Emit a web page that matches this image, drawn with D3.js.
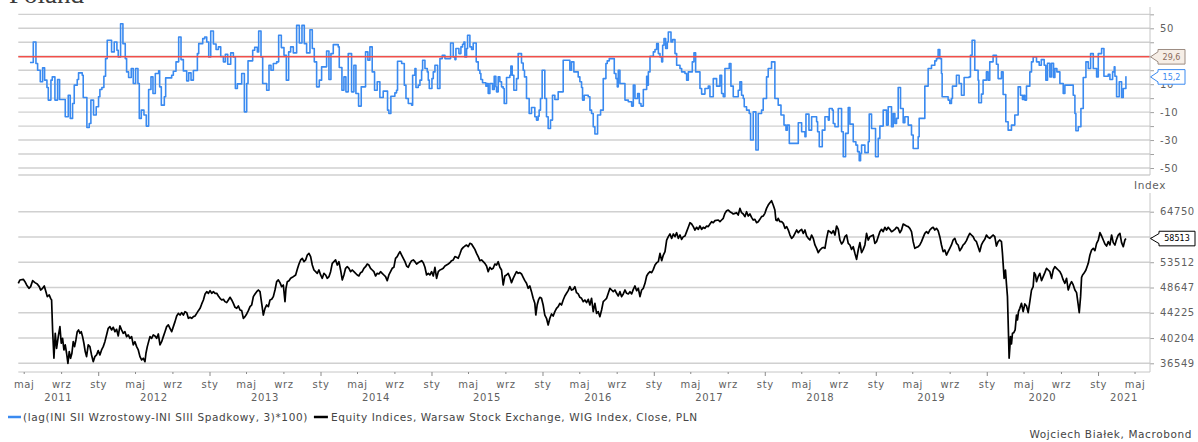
<!DOCTYPE html>
<html><head><meta charset="utf-8">
<script src="https://cdn.jsdelivr.net/npm/d3@7"></script>
<style>
html,body{margin:0;padding:0;background:#fff;}
svg{display:block;}
</style></head><body>
<svg id="chart" width="1198" height="442"></svg>
<script>
// ---------------- DATA ----------------
const titleText = "Poland";
const unitLabel = "Index";
const creditText = "Wojciech Białek, Macrobond";
const legendLabels = ["(lag(INI SII Wzrostowy-INI SIII Spadkowy, 3)*100)", "Equity Indices, Warsaw Stock Exchange, WIG Index, Close, PLN"];
const monthNames = ["sty","lut","mar","kwi","maj","cze","lip","sie","wrz","paź","lis","gru"];
const years = [2011,2012,2013,2014,2015,2016,2017,2018,2019,2020,2021];
const sentimentTicks = [-50,-40,-30,-20,-10,0,10,20,30,40,50,60];
const sentimentLabelTicks = [50,10,-10,-30,-50];          // 30 is hidden behind the 29,6 marker
const wigTicks = [36549,40204,44225,48647,53512,58863,64750];
const wigLabelTicks = [36549,40204,44225,48647,53512,64750]; // 58863 hidden behind the last-value marker
const thresholdValue = 29.6;

// [decimal year, value] – sentiment spread (weekly steps)
const sentimentData = [
[2011.385,25.5],[2011.415,40.2],[2011.439,24.8],[2011.454,20.0],[2011.478,11.7],[2011.499,21.7],[2011.517,12.9],[2011.538,7.6],[2011.550,-1.4],[2011.574,12.9],[2011.586,15.2],[2011.610,-1.4],[2011.634,13.3],[2011.652,-1.0],[2011.703,-13.3],[2011.730,2.1],[2011.748,-14.5],[2011.769,-3.8],[2011.784,9.3],[2011.811,13.3],[2011.823,18.1],[2011.856,16.4],[2011.865,0.5],[2011.898,-21.0],[2011.919,-18.1],[2011.934,-1.4],[2011.958,-12.1],[2011.982,-6.2],[2012.003,1.0],[2012.015,6.2],[2012.033,7.6],[2012.051,15.7],[2012.066,28.3],[2012.081,41.4],[2012.120,33.1],[2012.144,40.2],[2012.168,34.3],[2012.180,29.5],[2012.201,53.3],[2012.222,39.0],[2012.243,28.3],[2012.255,18.8],[2012.273,14.8],[2012.297,21.2],[2012.315,10.5],[2012.336,21.2],[2012.357,10.5],[2012.369,-14.5],[2012.387,-8.6],[2012.411,-12.1],[2012.432,-20.0],[2012.453,6.2],[2012.474,15.2],[2012.492,3.3],[2012.513,17.6],[2012.543,19.5],[2012.552,8.1],[2012.567,-5.0],[2012.594,1.0],[2012.606,14.5],[2012.660,16.4],[2012.675,19.3],[2012.699,26.0],[2012.723,43.8],[2012.744,27.6],[2012.765,19.5],[2012.795,12.4],[2012.813,18.1],[2012.834,12.9],[2012.855,19.8],[2012.891,31.9],[2012.903,39.0],[2012.939,42.6],[2012.957,43.8],[2012.975,40.2],[2012.993,29.5],[2013.011,48.1],[2013.035,38.8],[2013.059,34.8],[2013.080,36.7],[2013.101,29.8],[2013.125,26.0],[2013.143,31.4],[2013.164,24.3],[2013.191,32.4],[2013.215,29.5],[2013.233,6.9],[2013.251,10.2],[2013.290,17.6],[2013.314,-9.8],[2013.335,10.5],[2013.347,26.7],[2013.389,34.3],[2013.407,36.4],[2013.431,33.1],[2013.443,48.1],[2013.464,29.5],[2013.479,10.5],[2013.515,5.7],[2013.536,23.6],[2013.554,20.0],[2013.575,24.8],[2013.605,26.0],[2013.623,45.0],[2013.647,36.2],[2013.671,30.7],[2013.692,12.9],[2013.713,33.1],[2013.731,36.7],[2013.755,32.4],[2013.785,52.1],[2013.809,39.5],[2013.833,52.1],[2013.854,39.0],[2013.875,32.4],[2013.905,49.0],[2013.926,35.5],[2013.944,26.0],[2013.965,8.1],[2013.989,12.9],[2014.010,22.4],[2014.055,33.8],[2014.076,13.3],[2014.094,31.9],[2014.115,38.3],[2014.160,36.7],[2014.169,21.9],[2014.193,5.7],[2014.211,15.2],[2014.229,4.5],[2014.250,31.9],[2014.280,4.5],[2014.301,23.6],[2014.319,3.3],[2014.343,-5.7],[2014.367,8.1],[2014.406,33.1],[2014.427,27.1],[2014.445,36.7],[2014.466,18.8],[2014.487,5.7],[2014.511,11.7],[2014.535,0.5],[2014.565,5.0],[2014.604,-8.6],[2014.616,-11.0],[2014.634,1.4],[2014.670,3.8],[2014.685,5.7],[2014.694,26.4],
[2014.731,24.8],[2014.755,9.3],[2014.770,-0.2],[2014.791,-3.8],[2014.821,-5.0],[2014.830,16.4],[2014.851,21.2],[2014.860,7.6],[2014.881,9.3],[2014.896,12.9],[2014.911,20.0],[2014.920,27.1],[2014.941,21.2],[2014.962,18.8],[2014.971,12.9],[2014.980,6.9],[2015.004,14.0],[2015.016,18.8],[2015.031,23.6],[2015.055,6.9],[2015.076,28.3],[2015.097,30.7],[2015.121,28.3],[2015.172,39.5],[2015.196,29.5],[2015.211,27.6],[2015.220,35.5],[2015.247,31.9],[2015.265,36.7],[2015.280,38.6],[2015.292,40.2],[2015.301,29.5],[2015.316,35.5],[2015.325,45.0],[2015.346,36.7],[2015.361,34.8],[2015.376,39.5],[2015.403,26.0],[2015.421,20.0],[2015.436,17.6],[2015.445,13.3],[2015.460,11.0],[2015.490,8.6],[2015.502,10.5],[2015.511,3.3],[2015.526,10.5],[2015.550,6.2],[2015.565,15.7],[2015.580,8.1],[2015.586,4.5],[2015.601,15.2],[2015.616,11.7],[2015.631,8.1],[2015.646,6.9],[2015.655,-3.8],[2015.676,14.8],[2015.706,16.4],[2015.715,22.9],[2015.727,16.4],[2015.742,5.7],[2015.766,14.0],[2015.781,31.9],[2015.811,25.2],[2015.826,20.0],[2015.838,15.2],[2015.856,-0.2],[2015.880,-11.0],[2015.901,-6.7],[2015.931,-13.3],[2015.946,-15.7],[2015.961,-12.9],[2015.970,-8.6],[2015.982,-0.2],[2015.997,20.0],[2016.021,-0.2],[2016.036,-13.3],[2016.051,-21.7],[2016.072,-15.7],[2016.090,2.1],[2016.111,-1.0],[2016.141,4.5],[2016.186,27.1],[2016.246,20.0],[2016.261,26.0],[2016.282,18.8],[2016.321,15.2],[2016.336,11.7],[2016.351,7.6],[2016.360,-1.4],[2016.375,2.1],[2016.411,1.0],[2016.426,-8.6],[2016.441,-11.0],[2016.456,-20.5],[2016.471,-25.7],[2016.495,-12.1],[2016.522,-8.6],[2016.546,14.0],[2016.570,24.8],[2016.582,26.7],[2016.600,28.3],[2016.645,17.6],[2016.660,14.0],[2016.672,8.1],[2016.681,20.0],[2016.696,10.5],[2016.741,-1.4],[2016.771,-2.6],[2016.801,-5.7],[2016.816,9.3],[2016.831,-0.2],[2016.855,3.3],[2016.870,-3.8],[2016.885,-5.7],[2016.906,6.2],[2016.936,15.7],[2016.945,9.3],[2016.951,18.8],[2016.966,30.0],[2016.996,33.1],[2017.011,34.8],[2017.026,39.0],[2017.041,31.9],[2017.056,29.5],[2017.071,26.0],[2017.080,37.9],[2017.092,42.6],[2017.107,35.5],[2017.122,40.2],[2017.131,47.4],[2017.155,40.2],[2017.170,41.9],[2017.191,31.9],[2017.206,23.6],[2017.236,21.2],[2017.251,18.8],[2017.281,17.6],[2017.296,12.9],[2017.311,18.8],[2017.347,26.0],[2017.362,32.4],[2017.377,18.8],[2017.416,6.9],[2017.431,2.9],[2017.461,6.9],[2017.491,8.6],[2017.506,1.0],[2017.536,14.0],[2017.566,8.6],[2017.596,16.4],[2017.611,3.3],[2017.626,1.0],[2017.641,21.2],[2017.680,24.8],[2017.695,8.6],[2017.716,1.0],[2017.761,5.7],[2017.776,11.7],[2017.791,2.1],[2017.806,-0.2],[2017.815,-6.2],[2017.836,-8.6],[2017.860,-11.0],[2017.872,-30.0],[2017.896,-9.8],[2017.920,-37.1],[2017.941,-11.0],[2017.971,-8.6],[2017.986,-0.2],[2018.016,15.2],[2018.031,21.2],[2018.061,26.0],[2018.091,-0.2],[2018.121,-5.0],
[2018.146,-12.1],[2018.173,-19.3],[2018.191,-22.9],[2018.203,-19.3],[2018.221,-32.4],[2018.302,-17.6],[2018.332,-24.0],[2018.362,-27.6],[2018.371,-11.4],[2018.398,-22.9],[2018.422,-13.3],[2018.467,-16.9],[2018.476,-24.0],[2018.491,-34.8],[2018.518,-22.9],[2018.542,-13.3],[2018.572,-15.7],[2018.581,-7.4],[2018.608,-8.6],[2018.617,-18.1],[2018.632,-20.5],[2018.662,-7.4],[2018.692,-24.0],[2018.707,-41.9],[2018.728,-25.2],[2018.752,-6.7],[2018.767,-18.6],[2018.797,-31.2],[2018.821,-33.6],[2018.836,-38.3],[2018.851,-44.8],[2018.863,-39.5],[2018.872,-33.6],[2018.902,-39.0],[2018.932,-31.2],[2018.941,-11.4],[2018.962,-21.7],[2018.998,-41.9],[2019.022,-28.8],[2019.037,-20.0],[2019.067,-8.6],[2019.097,-19.3],[2019.112,-6.2],[2019.142,-20.5],[2019.157,-11.0],[2019.172,-18.1],[2019.187,-14.5],[2019.202,7.6],[2019.223,-7.4],[2019.247,-17.6],[2019.262,-13.3],[2019.292,-19.3],[2019.322,-26.4],[2019.337,-36.0],[2019.382,-27.6],[2019.391,-14.5],[2019.442,8.6],[2019.472,21.2],[2019.502,23.6],[2019.532,26.7],[2019.547,28.3],[2019.562,34.8],[2019.577,28.3],[2019.592,17.6],[2019.598,1.0],[2019.652,-1.4],[2019.667,-3.8],[2019.682,-0.2],[2019.691,8.6],[2019.727,16.4],[2019.751,10.5],[2019.772,2.1],[2019.796,14.8],[2019.841,15.2],[2019.853,30.7],[2019.868,41.4],[2019.892,20.0],[2019.922,12.9],[2019.928,-3.3],[2019.952,2.9],[2019.967,12.9],[2019.997,18.8],[2020.012,12.9],[2020.027,26.0],[2020.057,30.7],[2020.087,24.3],[2020.102,14.0],[2020.132,18.8],[2020.147,2.6],[2020.171,-16.9],[2020.192,-22.9],[2020.222,-19.3],[2020.252,-12.1],[2020.282,8.1],[2020.303,2.1],[2020.321,-1.0],[2020.333,2.1],[2020.342,-1.4],[2020.357,8.6],[2020.387,18.8],[2020.402,26.0],[2020.417,29.5],[2020.447,26.0],[2020.471,23.6],[2020.490,27.6],[2020.516,23.6],[2020.531,12.9],[2020.546,25.0],[2020.567,15.2],[2020.582,25.0],[2020.600,14.8],[2020.612,21.2],[2020.630,18.8],[2020.657,10.5],[2020.687,3.3],[2020.702,9.3],[2020.777,2.1],[2020.792,-11.0],[2020.801,-23.3],[2020.822,-20.5],[2020.846,-7.4],[2020.867,14.8],[2020.891,26.0],[2020.912,21.2],[2020.933,31.9],[2020.957,21.2],[2020.987,15.2],[2021.002,31.9],[2021.032,35.5],[2021.053,15.7],[2021.092,17.1],[2021.107,13.3],[2021.131,18.8],[2021.146,22.4],[2021.152,15.7],[2021.167,1.0],[2021.191,11.7],[2021.212,0.5],[2021.227,6.9],[2021.251,15.2],[2021.257,15.2]
];

// [decimal year, close] – WIG index
const wigData = [
[2011.280,49420],[2011.295,50050],[2011.325,50170],[2011.340,49730],[2011.355,49110],[2011.376,48500],[2011.391,48810],[2011.409,49920],[2011.430,49550],[2011.451,49300],[2011.469,48810],[2011.481,48190],[2011.499,48500],[2011.514,48930],[2011.529,47890],[2011.541,47000],[2011.559,47300],[2011.571,46700],[2011.580,46410],[2011.589,41450],[2011.601,37250],[2011.613,40930],[2011.625,38675],[2011.640,40420],[2011.655,41970],[2011.667,39420],[2011.679,40160],[2011.691,38440],[2011.703,39170],[2011.715,37960],[2011.727,36550],[2011.739,38200],[2011.751,37250],[2011.763,37960],[2011.775,39660],[2011.787,38920],[2011.799,39910],[2011.811,41180],[2011.823,41450],[2011.835,40930],[2011.847,41180],[2011.859,40420],[2011.871,39420],[2011.883,38200],[2011.895,37480],[2011.910,39170],[2011.925,38920],[2011.940,37720],[2011.955,36780],[2011.970,37480],[2011.985,37720],[2012.000,38340],[2012.015,37720],[2012.030,38440],[2012.045,38920],[2012.060,39660],[2012.075,40670],[2012.090,41710],[2012.105,41970],[2012.120,41450],[2012.135,41870],[2012.150,41180],[2012.165,41550],[2012.180,40520],[2012.195,42080],[2012.210,41450],[2012.225,40930],[2012.240,41180],[2012.255,40420],[2012.270,40670],[2012.285,40160],[2012.300,40420],[2012.315,39170],[2012.330,39660],[2012.345,38920],[2012.360,38440],[2012.375,37480],[2012.390,37010],[2012.405,37250],[2012.420,36780],[2012.429,37960],[2012.441,38920],[2012.453,39660],[2012.465,40420],[2012.480,40160],[2012.495,40670],[2012.510,40520],[2012.525,40160],[2012.540,40820],[2012.555,39170],[2012.570,39660],[2012.585,40420],[2012.600,41180],[2012.615,41970],[2012.630,42240],[2012.645,41710],[2012.660,41180],[2012.675,41970],[2012.690,42770],[2012.705,43690],[2012.720,44130],[2012.735,43850],[2012.750,44250],[2012.765,43850],[2012.780,44410],[2012.795,44250],[2012.810,43310],[2012.825,43470],[2012.840,43310],[2012.855,43580],[2012.870,43690],[2012.885,44130],[2012.900,44580],[2012.915,44970],[2012.930,45720],[2012.945,46410],[2012.960,47480],[2012.975,47890],[2012.990,47590],[2013.005,48070],[2013.020,47590],[2013.035,47890],[2013.050,47590],[2013.065,47590],[2013.080,47120],[2013.095,46700],[2013.110,46410],[2013.125,46530],[2013.140,46120],[2013.155,45950],[2013.170,46410],[2013.185,46880],[2013.200,46410],[2013.215,45830],[2013.230,45140],[2013.245,44970],[2013.260,45370],[2013.275,44690],[2013.290,44580],[2013.305,43310],[2013.320,43580],[2013.335,44020],[2013.350,44580],[2013.365,45250],[2013.380,45540],[2013.395,47000],[2013.410,47480],[2013.425,47890],[2013.440,48190],[2013.455,47890],[2013.470,45830],[2013.485,43850],[2013.500,44970],[2013.515,45540],[2013.530,45250],[2013.545,46410],[2013.560,46530],[2013.575,47000],[2013.590,48190],[2013.605,49730],[2013.620,50050],[2013.635,49550],[2013.650,48810],[2013.665,49110],[2013.680,46120],[2013.689,48500],[2013.701,49730],[2013.716,49920],[2013.731,50360],[2013.746,50550],[2013.776,51000],[2013.791,52100],[2013.806,53150],[2013.821,53970],[2013.836,54310],[2013.851,53630],[2013.866,53970],[2013.881,54990],[2013.896,55330],[2013.911,54650],[2013.926,52950],[2013.941,51970],[2013.956,51640],[2013.971,51320],[2013.986,51970],[2014.001,51000],[2014.016,50360],[2014.031,51320],[2014.046,51000],[2014.061,50360],[2014.076,50680],[2014.091,51640],[2014.106,53290],[2014.121,53630],[2014.136,53970],[2014.151,52950],[2014.166,53630],[2014.181,51970],[2014.196,50050],[2014.211,51000],[2014.226,52300],[2014.241,52620],[2014.256,52300],[2014.271,51640],[2014.286,51970],[2014.301,51640],[2014.331,51000],[2014.346,50810],[2014.361,51450],[2014.376,51640],[2014.391,52300],[2014.406,52620],[2014.421,53150],[2014.436,52950],[2014.451,52300],[2014.466,51970],[2014.481,51640],[2014.496,50810],[2014.511,51320],[2014.526,51190],[2014.541,51640],[2014.556,51320],[2014.571,51000],[2014.586,50680],[2014.601,49920],[2014.616,51000],[2014.631,51640],[2014.646,52300],[2014.661,52500],[2014.676,54310],[2014.691,54650],[2014.706,55330],
[2014.716,55690],[2014.731,54990],[2014.746,54310],[2014.761,53630],[2014.776,52760],[2014.791,52500],[2014.806,53290],[2014.821,53830],[2014.836,53970],[2014.851,53630],[2014.866,53150],[2014.881,53420],[2014.896,53630],[2014.911,53830],[2014.926,53420],[2014.941,52500],[2014.956,51000],[2014.971,51320],[2014.986,51000],[2015.001,51640],[2015.016,50810],[2015.031,52500],[2015.046,50360],[2015.061,51640],[2015.076,51970],[2015.091,52100],[2015.106,52300],[2015.121,52760],[2015.136,52950],[2015.151,53150],[2015.166,53420],[2015.181,53830],[2015.196,53970],[2015.211,54650],[2015.226,54510],[2015.241,54310],[2015.256,55200],[2015.271,56180],[2015.286,56600],[2015.301,56880],[2015.316,57100],[2015.331,56740],[2015.346,57470],[2015.361,57330],[2015.376,56740],[2015.391,56180],[2015.406,55330],[2015.421,54650],[2015.436,53830],[2015.451,53970],[2015.466,53630],[2015.481,53290],[2015.496,52760],[2015.511,51640],[2015.526,52500],[2015.541,52100],[2015.556,52300],[2015.571,53150],[2015.586,52950],[2015.601,53630],[2015.616,52500],[2015.631,51970],[2015.646,49110],[2015.661,50810],[2015.676,51000],[2015.691,51320],[2015.706,50550],[2015.721,49550],[2015.736,50360],[2015.751,51000],[2015.766,51640],[2015.781,51320],[2015.796,51450],[2015.811,51190],[2015.826,50550],[2015.841,49920],[2015.856,49420],[2015.871,48500],[2015.886,48930],[2015.901,47890],[2015.916,46700],[2015.931,45830],[2015.940,43850],[2015.952,45540],[2015.964,46410],[2015.976,46880],[2015.991,46700],[2016.006,45540],[2016.021,43850],[2016.036,43310],[2016.051,42240],[2016.066,43310],[2016.081,44020],[2016.096,43690],[2016.111,44410],[2016.126,44970],[2016.141,45250],[2016.156,45830],[2016.171,45540],[2016.186,46410],[2016.201,47120],[2016.216,47590],[2016.231,48070],[2016.246,48810],[2016.261,48190],[2016.276,48310],[2016.291,48810],[2016.306,47710],[2016.321,47480],[2016.336,46880],[2016.351,46700],[2016.366,46120],[2016.381,46410],[2016.396,45950],[2016.411,46530],[2016.426,45540],[2016.441,46700],[2016.456,44410],[2016.471,45830],[2016.486,44130],[2016.501,44410],[2016.516,43580],[2016.531,44690],[2016.546,46120],[2016.561,46410],[2016.576,46700],[2016.591,47590],[2016.606,48500],[2016.621,48190],[2016.636,47890],[2016.651,48190],[2016.666,47590],[2016.681,47120],[2016.696,47890],[2016.711,47000],[2016.726,47480],[2016.741,48190],[2016.756,47590],[2016.771,47480],[2016.786,47890],[2016.801,47480],[2016.816,48310],[2016.831,48930],[2016.846,48070],[2016.861,48500],[2016.876,47000],[2016.891,48190],[2016.906,48500],[2016.921,49420],[2016.936,50810],[2016.951,51320],[2016.966,51640],[2016.981,51450],[2016.996,52100],[2017.011,52950],[2017.026,53420],[2017.041,53630],[2017.056,55330],[2017.071,53830],[2017.086,54990],[2017.101,55690],[2017.116,58190],[2017.131,58930],[2017.146,59530],[2017.161,58560],[2017.176,59530],[2017.191,58930],[2017.206,59820],[2017.221,58560],[2017.236,59300],[2017.251,58340],[2017.266,58930],[2017.281,59080],[2017.296,60050],[2017.311,61050],[2017.326,62120],[2017.341,61810],[2017.356,61200],[2017.371,60430],[2017.386,61050],[2017.401,60580],[2017.416,61350],[2017.431,60580],[2017.446,61050],[2017.461,60810],[2017.476,61350],[2017.491,61200],[2017.506,61810],[2017.521,62360],[2017.536,62120],[2017.551,62600],[2017.581,62750],[2017.596,62360],[2017.611,62750],[2017.626,63150],[2017.641,64350],[2017.656,64990],[2017.671,65160],[2017.686,64750],[2017.701,64510],[2017.716,64190],[2017.731,64350],[2017.746,64510],[2017.761,63940],[2017.776,65570],[2017.791,64510],[2017.806,64190],[2017.821,63550],[2017.836,64750],[2017.851,63700],[2017.866,64190],[2017.881,63390],[2017.896,62750],[2017.911,62910],[2017.926,62120],[2017.941,62360],[2017.956,62910],[2017.971,63550],[2017.986,63700],[2018.001,64350],[2018.016,65570],[2018.031,66390],[2018.046,66980],[2018.061,67480],[2018.076,66390],[2018.091,65160],[2018.100,62750],[2018.112,62600],[2018.121,63150],[2018.136,62360],
[2018.152,62360],[2018.167,61960],[2018.182,60810],[2018.197,61200],[2018.212,60430],[2018.227,59300],[2018.242,58560],[2018.257,58930],[2018.272,59670],[2018.287,60430],[2018.302,59820],[2018.317,60280],[2018.332,60580],[2018.347,59670],[2018.362,60430],[2018.377,59080],[2018.392,58560],[2018.407,58190],[2018.422,59300],[2018.437,58560],[2018.452,57110],[2018.467,56390],[2018.482,55480],[2018.497,56040],[2018.512,56390],[2018.527,56600],[2018.542,56390],[2018.557,58560],[2018.572,60280],[2018.587,60050],[2018.602,59670],[2018.617,60280],[2018.632,59300],[2018.647,61350],[2018.662,60580],[2018.677,58190],[2018.692,57330],[2018.707,57830],[2018.722,58930],[2018.737,59300],[2018.752,57470],[2018.767,57110],[2018.782,56180],[2018.797,56740],[2018.812,55340],[2018.827,54100],[2018.842,56040],[2018.857,57620],[2018.872,55480],[2018.887,56180],[2018.902,57110],[2018.917,59670],[2018.932,58190],[2018.947,58930],[2018.977,59300],[2018.992,57470],[2019.007,57830],[2019.022,58930],[2019.037,60050],[2019.052,60580],[2019.067,60050],[2019.082,61050],[2019.097,60430],[2019.112,61050],[2019.127,60580],[2019.142,60050],[2019.157,60280],[2019.172,60580],[2019.187,61050],[2019.202,60810],[2019.217,59820],[2019.232,60430],[2019.247,61810],[2019.262,61580],[2019.277,61350],[2019.292,61200],[2019.307,60810],[2019.322,60050],[2019.337,57830],[2019.352,56390],[2019.367,56600],[2019.382,56740],[2019.397,57110],[2019.412,57830],[2019.427,58780],[2019.442,59670],[2019.457,60050],[2019.472,59670],[2019.487,60430],[2019.502,60810],[2019.517,61050],[2019.532,60430],[2019.547,60810],[2019.562,60280],[2019.577,58930],[2019.592,57110],[2019.607,55690],[2019.622,56040],[2019.637,54990],[2019.652,55690],[2019.667,56390],[2019.682,57110],[2019.697,58190],[2019.712,58560],[2019.727,57470],[2019.742,57110],[2019.757,55900],[2019.772,56390],[2019.787,57110],[2019.802,57470],[2019.817,58050],[2019.832,58930],[2019.847,59670],[2019.862,59300],[2019.877,58930],[2019.892,58190],[2019.907,57830],[2019.922,56740],[2019.937,55690],[2019.952,57110],[2019.967,57830],[2019.982,58340],[2019.997,59300],[2020.012,58780],[2020.027,58560],[2020.042,58930],[2020.057,59300],[2020.072,58930],[2020.087,56880],[2020.102,57830],[2020.117,58190],[2020.132,57830],[2020.141,55340],[2020.147,53290],[2020.156,50360],[2020.168,51970],[2020.177,49300],[2020.186,47000],[2020.195,40930],[2020.201,37250],[2020.207,38680],[2020.213,40420],[2020.222,39320],[2020.231,40930],[2020.243,41030],[2020.255,41450],[2020.267,43850],[2020.276,43040],[2020.285,44410],[2020.297,44970],[2020.312,45830],[2020.327,44410],[2020.342,45720],[2020.357,45370],[2020.372,44250],[2020.387,46120],[2020.402,48190],[2020.417,48810],[2020.426,51450],[2020.438,51000],[2020.447,49730],[2020.462,50680],[2020.477,51320],[2020.492,49920],[2020.507,50680],[2020.522,51450],[2020.537,52300],[2020.552,51970],[2020.567,51640],[2020.582,50360],[2020.597,51970],[2020.612,52620],[2020.627,52300],[2020.642,51970],[2020.657,51640],[2020.672,51000],[2020.687,50050],[2020.702,49420],[2020.717,50360],[2020.732,48190],[2020.747,49110],[2020.762,49730],[2020.777,49110],[2020.792,48190],[2020.807,47710],[2020.822,45540],[2020.831,44250],[2020.843,47000],[2020.852,50550],[2020.861,51000],[2020.873,51320],[2020.891,51970],[2020.912,53290],[2020.927,54990],[2020.942,56040],[2020.957,56390],[2020.972,55900],[2020.987,57470],[2021.002,58190],[2021.017,59820],[2021.032,59080],[2021.047,58190],[2021.062,57330],[2021.077,56880],[2021.092,57830],[2021.107,57110],[2021.122,59300],[2021.137,57620],[2021.152,57110],[2021.167,58340],[2021.182,59300],[2021.197,59670],[2021.212,57620],[2021.227,56740],[2021.242,58190],[2021.251,58513]
];

// ---------------- CHART ----------------
const FONT = "'DejaVu Sans', sans-serif";
const svg = d3.select("#chart");
function toDate(y){const yr=Math.floor(y);const a=new Date(yr,0,1),b=new Date(yr+1,0,1);return new Date(+a+(y-yr)*(b-a));}

const X0 = 18.3, X1 = 1150;
const TOP = {t:7, b:175}, BOT = {t:193, b:372};
const x = d3.scaleTime().domain([toDate(2011.28), toDate(2021.468)]).range([X0, X1]);
const yTop = d3.scaleLinear().domain([-50, 50]).range([168, 28.3]);
const yBot = d3.scaleLog().domain([36549, 64750]).range([363.3, 211.7]);

const gridCol = "#d0d0d0", axisCol = "#c6c6c6", txtCol = "#5f5f5f";

// title (partly cut off at the top, as in the original)
svg.append("text").attr("x", 9).attr("y", 3)
  .attr("font-family", "'Liberation Serif', serif").attr("font-size", 27)
  .attr("fill", "#3a3a3a").text(titleText);

// grids
svg.append("g").selectAll("line").data(sentimentTicks).join("line")
  .attr("x1", X0).attr("x2", X1).attr("y1", d => yTop(d)).attr("y2", d => yTop(d))
  .attr("stroke", gridCol).attr("stroke-width", 1.4);
svg.append("line").attr("x1", X0).attr("x2", X1).attr("y1", TOP.b).attr("y2", TOP.b)
  .attr("stroke", gridCol).attr("stroke-width", 1.4);
svg.append("g").selectAll("line").data(wigTicks).join("line")
  .attr("x1", X0).attr("x2", X1).attr("y1", d => yBot(d)).attr("y2", d => yBot(d))
  .attr("stroke", gridCol).attr("stroke-width", 1.4);

// sentiment line
svg.append("path").datum(sentimentData)
  .attr("d", d3.line().x(d => x(toDate(d[0]))).y(d => yTop(d[1])).curve(d3.curveStepAfter))
  .attr("fill", "none").attr("stroke", "#3a8af0").attr("stroke-width", 1.6).attr("stroke-linejoin", "round");

// threshold line
svg.append("line").attr("x1", X0).attr("x2", X1)
  .attr("y1", yTop(thresholdValue)).attr("y2", yTop(thresholdValue))
  .attr("stroke", "#f0504a").attr("stroke-width", 1.6);

// WIG line
svg.append("path").datum(wigData)
  .attr("d", d3.line().x(d => x(toDate(d[0]))).y(d => yBot(d[1])))
  .attr("fill", "none").attr("stroke", "#000").attr("stroke-width", 1.7).attr("stroke-linejoin", "round");

// right axes
function styleAxis(g){
  g.attr("font-family", FONT).attr("font-size", 10);
  g.select(".domain").remove();
  g.selectAll(".tick line").attr("stroke", "#a0a0a0");
  g.selectAll(".tick text").attr("fill", txtCol).attr("letter-spacing", 0.6);
}
const axT = svg.append("g").attr("transform", `translate(${X1},0)`)
  .call(d3.axisRight(yTop).tickValues(sentimentTicks).tickSize(4).tickPadding(6)
    .tickFormat(d => sentimentLabelTicks.includes(d) ? String(d) : ""));
styleAxis(axT);
const axB = svg.append("g").attr("transform", `translate(${X1},0)`)
  .call(d3.axisRight(yBot).tickValues(wigTicks).tickSize(4).tickPadding(6)
    .tickFormat(d => wigLabelTicks.includes(d) ? String(d) : ""));
styleAxis(axB);
svg.append("line").attr("x1", X1).attr("x2", X1).attr("y1", TOP.t).attr("y2", TOP.b).attr("stroke", axisCol);
svg.append("line").attr("x1", X1).attr("x2", X1).attr("y1", BOT.t).attr("y2", BOT.b).attr("stroke", axisCol);

svg.append("text").attr("x", X1).attr("y", 189).attr("text-anchor", "middle")
  .attr("font-family", FONT).attr("font-size", 10.5).attr("letter-spacing", 0.6)
  .attr("fill", txtCol).text(unitLabel);

// x axis
svg.append("line").attr("x1", X0).attr("x2", X1).attr("y1", BOT.b).attr("y2", BOT.b).attr("stroke", axisCol);
const axX = svg.append("g").attr("transform", `translate(0,${BOT.b})`)
  .call(d3.axisBottom(x).ticks(d3.timeMonth.every(4)).tickSize(2).tickPadding(7)
    .tickFormat(d => monthNames[d.getMonth()]));
axX.attr("font-family", FONT).attr("font-size", 10);
axX.select(".domain").remove();
axX.selectAll(".tick line").attr("stroke", "#8a8a8a").attr("y2", d => d.getMonth() === 0 ? 4 : 2);
axX.selectAll(".tick text").attr("fill", txtCol).attr("letter-spacing", 0.6);

svg.append("g").selectAll("text").data(years).join("text")
  .attr("x", yr => (Math.max(x(new Date(yr,0,1)), X0) + Math.min(x(new Date(yr+1,0,1)), X1)) / 2)
  .attr("y", 401).attr("text-anchor", "middle")
  .attr("font-family", FONT).attr("font-size", 10).attr("letter-spacing", 0.6)
  .attr("fill", txtCol).text(yr => yr);

// value callouts
function callout(yv, label, w, bx, fill, stroke, color){
  const h = 14.6, tip = X1 + 0.5;
  const g = svg.append("g");
  g.append("path")
    .attr("d", `M${tip},${yv} L${bx},${yv-5} L${bx},${yv-h/2} L${bx+w},${yv-h/2} L${bx+w},${yv+h/2} L${bx},${yv+h/2} L${bx},${yv+5} Z`)
    .attr("fill", fill).attr("stroke", stroke).attr("stroke-width", 1);
  g.append("text").attr("x", bx + w/2).attr("y", yv).attr("dy", "0.35em")
    .attr("text-anchor", "middle").attr("font-family", FONT).attr("font-size", 8)
    .attr("fill", color).text(label);
}
const fmt1 = v => d3.format(".1f")(v).replace(".", ",");
const lastSent = sentimentData[sentimentData.length-1][1];
const lastWig = wigData[wigData.length-1][1];
callout(yTop(thresholdValue), fmt1(thresholdValue), 27, 1158, "#f6eee6", "#9c8c82", "#8a6a5a");
callout(yTop(lastSent), fmt1(lastSent), 27, 1158, "#ffffff", "#3a8af0", "#3a8af0");
callout(yBot(lastWig), String(lastWig), 36, 1159, "#ffffff", "#000000", "#000000");

// legend
const leg = svg.append("g");
leg.append("line").attr("x1", 8).attr("x2", 21).attr("y1", 417).attr("y2", 417)
  .attr("stroke", "#3a8af0").attr("stroke-width", 2.5);
const t1 = leg.append("text").attr("x", 23).attr("y", 421)
  .attr("font-family", FONT).attr("font-size", 10.5).attr("letter-spacing", 0.6)
  .attr("fill", "#444").text(legendLabels[0]);
const end1 = 23 + t1.node().getComputedTextLength();
leg.append("line").attr("x1", end1 + 6).attr("x2", end1 + 20).attr("y1", 417).attr("y2", 417)
  .attr("stroke", "#000").attr("stroke-width", 2.5);
leg.append("text").attr("x", end1 + 23).attr("y", 421)
  .attr("font-family", FONT).attr("font-size", 10.5).attr("letter-spacing", 0.6)
  .attr("fill", "#444").text(legendLabels[1]);

// credit
svg.append("text").attr("x", 1192).attr("y", 438).attr("text-anchor", "end")
  .attr("font-family", FONT).attr("font-size", 10.5).attr("letter-spacing", 0.6)
  .attr("fill", "#444").text(creditText);
</script>
</body></html>
